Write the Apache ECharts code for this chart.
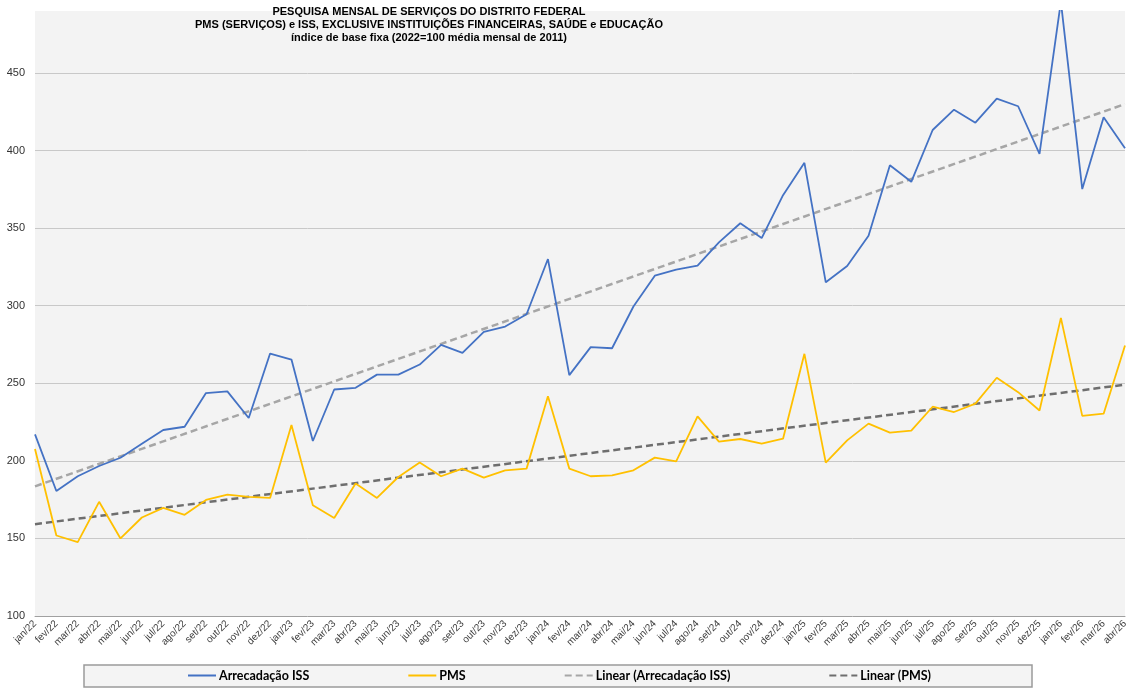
<!DOCTYPE html>
<html>
<head>
<meta charset="utf-8">
<script src="https://cdn.jsdelivr.net/npm/echarts@6/dist/echarts.min.js"></script>
<style>
  html, body { margin: 0; padding: 0; background: #fff; }
  #chart { width: 1133px; height: 691px; }
</style>
</head>
<body>
<div id="chart"></div>
<script>
// meses jan/22 .. abr/26
var months = ['jan/22','fev/22','mar/22','abr/22','mai/22','jun/22','jul/22','ago/22','set/22','out/22','nov/22','dez/22',
  'jan/23','fev/23','mar/23','abr/23','mai/23','jun/23','jul/23','ago/23','set/23','out/23','nov/23','dez/23',
  'jan/24','fev/24','mar/24','abr/24','mai/24','jun/24','jul/24','ago/24','set/24','out/24','nov/24','dez/24',
  'jan/25','fev/25','mar/25','abr/25','mai/25','jun/25','jul/25','ago/25','set/25','out/25','nov/25','dez/25',
  'jan/26','fev/26','mar/26','abr/26'];

var arrecadacaoISS = [217.1, 180.6, 190.1, 196.7, 202.0, 211.1, 219.9, 222.0, 243.7, 244.8, 227.6, 269.2,
  265.3, 212.8, 246.0, 247.1, 255.6, 255.6, 262.1, 274.8, 269.6, 283.2, 286.6, 294.5,
  330.1, 255.3, 273.3, 272.6, 299.5, 319.4, 323.3, 325.8, 340.8, 353.2, 343.6, 371.3,
  392.1, 315.1, 325.6, 345.1, 390.6, 379.9, 413.3, 426.4, 418.0, 433.5, 428.6, 397.9,
  496.0, 375.2, 421.5, 401.5];

var pms = [207.6, 151.9, 147.6, 173.6, 150.0, 163.5, 169.7, 165.2, 174.8, 178.3, 176.8, 176.1,
  223.1, 171.4, 163.2, 185.4, 176.1, 189.6, 198.9, 190.1, 195.0, 189.2, 193.9, 195.0,
  241.7, 195.0, 190.1, 190.7, 193.9, 202.1, 199.7, 228.7, 212.4, 214.1, 211.1, 214.3,
  269.0, 198.9, 213.2, 224.0, 218.2, 219.5, 234.9, 231.5, 236.9, 253.6, 244.3, 232.5,
  292.2, 229.0, 230.4, 274.4];

// linhas de tendência (valores no início e no fim)
var trendISS = [183.6, 430.0];
var trendPMS = [159.2, 249.1];

var yTicks = [100, 150, 200, 250, 300, 350, 400, 450];

var last = months.length - 1;
var myChart = echarts.init(document.getElementById('chart'));

var option = {
  animation: false,
  backgroundColor: '#ffffff',
  textStyle: { fontFamily: 'Liberation Sans, Arial, sans-serif' },
  title: {
    text: 'PESQUISA MENSAL DE SERVIÇOS DO DISTRITO FEDERAL\nPMS (SERVIÇOS) e ISS, EXCLUSIVE INSTITUIÇÕES FINANCEIRAS, SAÚDE e EDUCAÇÃO\níndice de base fixa (2022=100 média mensal de 2011)',
    left: 429,
    top: 5,
    textAlign: 'center',
    padding: 0,
    textStyle: {
      fontSize: 11,
      fontWeight: 'bold',
      color: '#000',
      lineHeight: 13.3,
      fontFamily: 'Liberation Sans, Arial, sans-serif'
    }
  },
  graphic: [{
    type: 'rect',
    z: 0,
    shape: { x: 84, y: 665, width: 948, height: 22 },
    style: { fill: '#f4f4f4', stroke: '#9a9a9a', lineWidth: 1.5 }
  }],
  legend: {
    left: 187,
    top: 669,
    itemGap: 98,
    itemWidth: 28,
    itemHeight: 12,
    padding: 0,
    itemStyle: { opacity: 0 },
    textStyle: { fontSize: 12.5, fontWeight: 'bold', color: '#000', fontFamily: 'Lato, sans-serif', padding: [0, 0, 0, -2] },
    data: ['Arrecadação ISS', 'PMS', 'Linear (Arrecadação ISS)', 'Linear (PMS)']
  },
  grid: {
    left: 35, right: 8, top: 11, bottom: 75,
    show: true, backgroundColor: '#f3f3f3', borderWidth: 0
  },
  xAxis: {
    type: 'category',
    data: months,
    boundaryGap: false,
    axisLine: { lineStyle: { color: '#a0a0a0', width: 1 } },
    axisTick: { show: false },
    axisLabel: { interval: 0, rotate: 45, fontSize: 10, color: '#404040', margin: 6 }
  },
  yAxis: {
    type: 'value',
    min: 100,
    max: 490,
    interval: 50,
    axisLine: { show: false },
    axisTick: { show: false },
    axisLabel: {
      fontSize: 11, color: '#333', margin: 10, showMaxLabel: false,
      formatter: function (v) { return yTicks.indexOf(v) >= 0 ? String(v) : ''; }
    },
    splitLine: { show: true, showMinLine: false, showMaxLine: false, lineStyle: { color: '#c8c8c8', width: 1 } }
  },
  series: [
    {
      name: 'Arrecadação ISS', type: 'line', data: arrecadacaoISS, symbol: 'none', clip: true,
      lineStyle: { color: '#4472c4', width: 1.8 }, itemStyle: { color: '#4472c4' }, z: 3
    },
    {
      name: 'PMS', type: 'line', data: pms, symbol: 'none', clip: true,
      lineStyle: { color: '#ffc000', width: 1.8 }, itemStyle: { color: '#ffc000' }, z: 3
    },
    {
      name: 'Linear (Arrecadação ISS)', type: 'line', symbol: 'none',
      data: [[0, trendISS[0]], [last, trendISS[1]]],
      lineStyle: { color: '#a6a6a6', width: 2.5, type: [7, 4] }, itemStyle: { color: '#a6a6a6' }, z: 2
    },
    {
      name: 'Linear (PMS)', type: 'line', symbol: 'none',
      data: [[0, trendPMS[0]], [last, trendPMS[1]]],
      lineStyle: { color: '#6e6e6e', width: 2.5, type: [7, 4] }, itemStyle: { color: '#6e6e6e' }, z: 2
    }
  ]
};

myChart.setOption(option);
</script>
</body>
</html>
